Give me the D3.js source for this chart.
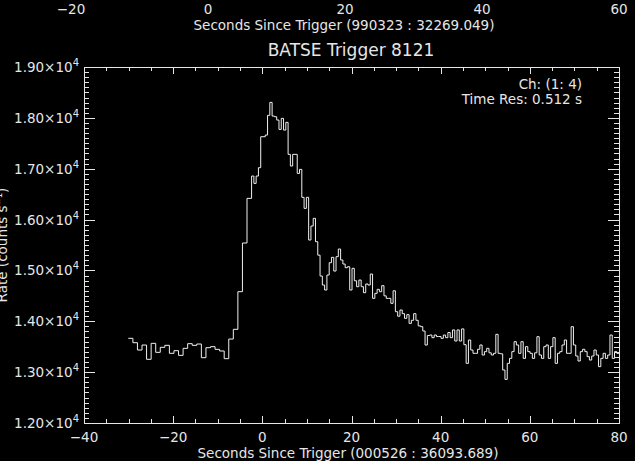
<!DOCTYPE html>
<html>
<head>
<meta charset="utf-8">
<script src="https://cdn.jsdelivr.net/npm/d3@7"></script>
<style>
  html, body { margin: 0; padding: 0; background: #000; }
  svg { display: block; }
  text { font-family: "DejaVu Sans", sans-serif; fill: #e6e6e6; }
</style>
</head>
<body>
<svg id="chart" width="635" height="461"></svg>
<script>
// ---------------- data ----------------
const chartTitle = "BATSE Trigger 8121";
const bottomTitle = "Seconds Since Trigger (000526 : 36093.689)";
const topTitle = "Seconds Since Trigger (990323 : 32269.049)";
const yTitle = "Rate (counts s\u207B\u00B9)";
const legendLines = ["Ch: (1: 4)", "Time Res: 0.512 s"];

const xDomain = [-40, 80];
const yDomain = [12000, 19000];
const xTickValues = [-40, -20, 0, 20, 40, 60, 80];
const yTickValues = [12000, 13000, 14000, 15000, 16000, 17000, 18000, 19000];
const yTickLabels = ["1.20", "1.30", "1.40", "1.50", "1.60", "1.70", "1.80", "1.90"];
const topTickValues = [-20, 0, 20, 40, 60];
const topDomain = [-18.1, 60];

// pre-trigger bins (1.024 s) and post bins (0.512 s)
const preStartTime = -30.06;
const preBinWidth = 1.024;
const preRates = [13665, 13579, 13435, 13533, 13252, 13566, 13389, 13488, 13527, 13370,
  13422, 13330, 13468, 13560, 13527, 13553, 13284, 13481, 13501, 13448,
  13416, 13265, 13651, 13842, 14582, 15539, 16417];
const postBinWidth = 0.512;
const postRates = [
  16856, 16712, 16856, 17020, 17629, 17629, 17662, 18050, 18304, 18035,
  18022, 17957, 17773, 17990, 17760, 17911, 17282, 17053, 17282, 17282,
  16908, 16987, 16437, 16220, 16437, 15598, 15873, 16024, 15565, 15300,
  14890, 14713, 14615, 14910, 15152, 15257, 14988, 15270, 15421, 15205,
  15126, 15054, 15073, 14615, 15041, 14797, 14680, 14811, 14680, 14562,
  14733, 14713, 14929, 14451, 14549, 14628, 14582, 14700, 14500, 14450,
  14451, 14353, 14600, 14189, 14100, 14222, 14150, 14058, 14130, 13959,
  14020, 14150, 14020, 13910, 13894, 13809, 13533, 13720, 13730, 13678,
  13730, 13700, 13700, 13665, 13730, 13678, 13780, 13678, 13830, 13612,
  13830, 13612, 13850, 13540, 13173, 13632, 13435, 13370, 13370, 13450,
  13534, 13337, 13403, 13468, 13380, 13337, 13370, 13743, 13370, 13360,
  13042, 12858, 13173, 13271, 13403, 13599, 13534, 13370, 13599, 13271,
  13501, 13403, 13370, 13271, 13380, 13697, 13337, 13271, 13501, 13534,
  13271, 13501, 13678, 13173, 13370, 13403, 13534, 13632, 13370, 13370,
  13894, 13534, 13317, 13219, 13403, 13449, 13403, 13304, 13238, 13317,
  13435, 13337, 13108, 13271, 13370, 13271, 13337, 13730, 13271, 13403,
  13370];

// ---------------- layout ----------------
const W = 635, H = 461;
const m = { left: 84, right: 619, top: 67, bottom: 423 };
const fg = "#e6e6e6";

const svg = d3.select("#chart");
svg.append("rect").attr("width", W).attr("height", H).attr("fill", "#000");

const x = d3.scaleLinear().domain(xDomain).range([m.left, m.right]);
const y = d3.scaleLinear().domain(yDomain).range([m.bottom, m.top]);
const xTop = d3.scaleLinear().domain(topDomain).range([m.left, m.right]);

// build step series
const pts = [];
preRates.forEach((v, i) => pts.push({ t: preStartTime + i * preBinWidth, v }));
const postStart = preStartTime + preRates.length * preBinWidth;
postRates.forEach((v, i) => pts.push({ t: postStart + i * postBinWidth, v }));
pts.push({ t: postStart + postRates.length * postBinWidth, v: postRates[postRates.length - 1] });

svg.append("clipPath").attr("id", "clip").append("rect")
  .attr("x", m.left).attr("y", m.top)
  .attr("width", m.right - m.left).attr("height", m.bottom - m.top);

const line = d3.line().x(d => x(d.t)).y(d => y(d.v)).curve(d3.curveStepAfter);
svg.append("path").datum(pts)
  .attr("clip-path", "url(#clip)")
  .attr("d", line)
  .attr("fill", "none").attr("stroke", "#f0f0f0").attr("stroke-width", 1);

// ---------------- axes (ticks point inward) ----------------
const xMinor = d3.range(xDomain[0], xDomain[1] + 0.001, 5);
const yMinor = d3.range(yDomain[0], yDomain[1] + 0.001, 100);
const xMaj = 7.1, xMin = 3.6, yMaj = 10.7, yMin = 5.35;

function styleAxis(g) {
  g.selectAll("path, line").attr("stroke", fg).attr("stroke-width", 1).attr("shape-rendering", "crispEdges");
  g.selectAll("text").remove();
}
function addAxis(axisGen, scale, vals, size, tx, ty) {
  svg.append("g").attr("transform", `translate(${tx},${ty})`)
    .call(axisGen(scale).tickValues(vals).tickSizeInner(-size).tickSizeOuter(0).tickFormat(""))
    .call(styleAxis);
}
addAxis(d3.axisBottom, x, xTickValues, xMaj, 0, m.bottom);
addAxis(d3.axisBottom, x, xMinor, xMin, 0, m.bottom);
addAxis(d3.axisTop, x, xTickValues, xMaj, 0, m.top);
addAxis(d3.axisTop, x, xMinor, xMin, 0, m.top);
addAxis(d3.axisLeft, y, yTickValues, yMaj, m.left, 0);
addAxis(d3.axisLeft, y, yMinor, yMin, m.left, 0);
addAxis(d3.axisRight, y, yTickValues, yMaj, m.right, 0);
addAxis(d3.axisRight, y, yMinor, yMin, m.right, 0);

const fs = 13.5;
// bottom tick labels
svg.append("g").selectAll("text").data(xTickValues).join("text")
  .attr("x", d => x(d)).attr("y", 442)
  .attr("text-anchor", "middle").attr("font-size", fs)
  .text(d => d < 0 ? "\u2212" + Math.abs(d) : d);
svg.append("text").attr("x", 348).attr("y", 458).attr("text-anchor", "middle")
  .attr("font-size", fs).text(bottomTitle);

// top axis labels
svg.append("g").selectAll("text").data(topTickValues).join("text")
  .attr("x", d => xTop(d)).attr("y", 14)
  .attr("text-anchor", "middle").attr("font-size", fs)
  .text(d => d < 0 ? "\u2212" + Math.abs(d) : d);
svg.append("text").attr("x", 344).attr("y", 30).attr("text-anchor", "middle")
  .attr("font-size", fs).text(topTitle);

// title
svg.append("text").attr("x", 351).attr("y", 56).attr("text-anchor", "middle")
  .attr("font-size", 17).text(chartTitle);

// y tick labels with superscript
const yl = svg.append("g").selectAll("text").data(yTickValues).join("text")
  .attr("x", 79).attr("y", d => y(d) + 5)
  .attr("text-anchor", "end").attr("font-size", fs);
yl.append("tspan").text((d, i) => yTickLabels[i] + "\u00D710");
yl.append("tspan").attr("dy", -6).attr("font-size", 10).text("4");

// y title (partly past the left edge, as in the reference)
svg.append("text").attr("transform", `translate(7,245) rotate(-90)`)
  .attr("text-anchor", "middle").attr("font-size", fs).text(yTitle);

// legend
svg.append("g").selectAll("text").data(legendLines).join("text")
  .attr("x", 582).attr("y", (d, i) => 89 + i * 15)
  .attr("text-anchor", "end").attr("font-size", fs).text(d => d);
</script>
</body>
</html>
